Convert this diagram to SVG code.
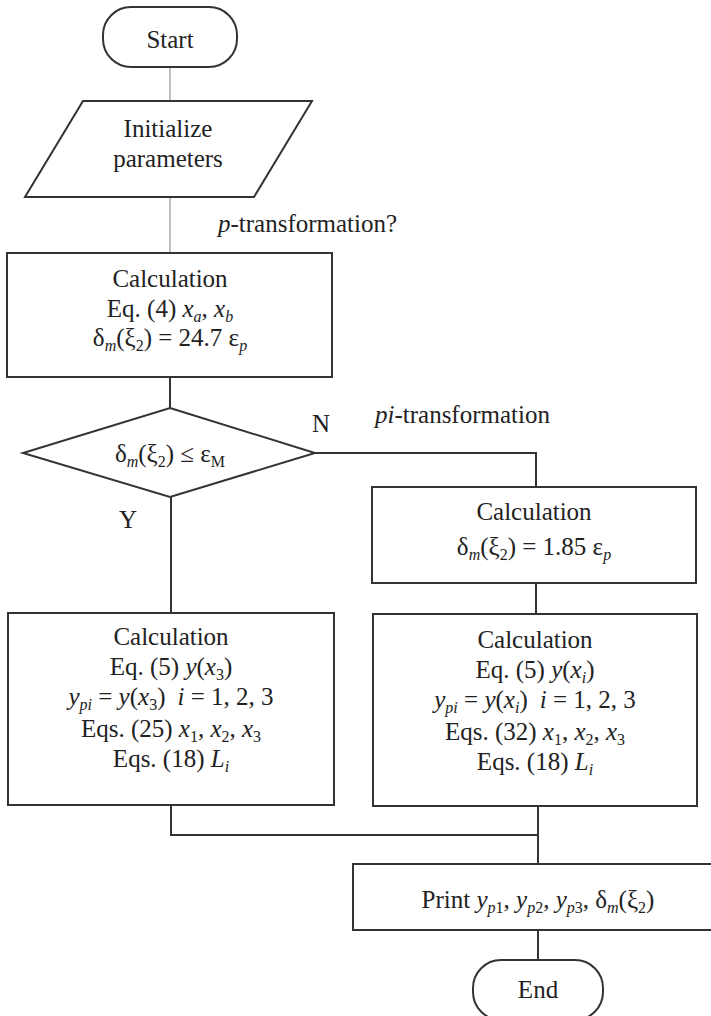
<svg xmlns="http://www.w3.org/2000/svg" width="711" height="1016" viewBox="0 0 711 1016" font-family="'Liberation Serif', 'Times New Roman', 'DejaVu Serif', serif">
<style>
text{font-family:'Liberation Serif','Times New Roman','DejaVu Serif',serif;font-size:25px;fill:#222;}
.c{text-anchor:middle;}
.i{font-style:italic;}
.s{font-size:16px;}
.shape{fill:#fff;stroke:#333;stroke-width:2;}
.ln{fill:none;stroke:#333;stroke-width:2;}
.lg{fill:none;stroke:#aaa;stroke-width:1.5;}
</style>
<rect width="711" height="1016" fill="#fff"/>
<g id="connectors">
<path class="lg" d="M170,67 V101"/>
<path class="lg" d="M170,197 V253"/>
<path class="ln" d="M170,377 V408"/>
<path class="ln" d="M315,453 H536 V487"/>
<path class="ln" d="M171,497 V613"/>
<path class="ln" d="M536,583 V614"/>
<path class="ln" d="M171,805 V835 H538"/>
<path class="ln" d="M538,806 V864"/>
<path class="ln" d="M538,930 V960"/>
</g>
<g id="start">
<rect class="shape" x="103" y="7" width="134" height="60" rx="28"/>
<text class="c" x="170" y="48">Start</text>
</g>
<g id="init">
<polygon class="shape" points="83,101 312,101 254,197 25,197"/>
<text class="c" x="168" y="137">Initialize</text>
<text class="c" x="168" y="167">parameters</text>
</g>
<g id="label-p">
<text x="218" y="232"><tspan class="i">p</tspan>-transformation?</text>
</g>
<g id="calc1">
<rect class="shape" x="7" y="253" width="325" height="124"/>
<text class="c" x="170" y="287">Calculation</text>
<text class="c" x="170" y="317">Eq. (4) <tspan class="i">x</tspan><tspan class="i s" dy="5">a</tspan><tspan dy="-5">, </tspan><tspan class="i">x</tspan><tspan class="i s" dy="5">b</tspan></text>
<text class="c" x="170" y="346">δ<tspan class="i s" dy="5">m</tspan><tspan dy="-5">(ξ</tspan><tspan class="s" dy="5">2</tspan><tspan dy="-5">) = 24.7 ε</tspan><tspan class="i s" dy="5">p</tspan></text>
</g>
<g id="decision">
<polygon class="shape" points="170,408 315,453 170,497 23,453"/>
<text class="c" x="170" y="462">δ<tspan class="i s" dy="5">m</tspan><tspan dy="-5">(ξ</tspan><tspan class="s" dy="5">2</tspan><tspan dy="-5">) ≤ ε</tspan><tspan class="s" dy="5">M</tspan></text>
</g>
<g id="labels">
<text class="c" x="321" y="432">N</text>
<text x="375" y="423"><tspan class="i">pi</tspan>-transformation</text>
<text class="c" x="128" y="528">Y</text>
</g>
<g id="calc2">
<rect class="shape" x="372" y="487" width="324" height="96"/>
<text class="c" x="534" y="520">Calculation</text>
<text class="c" x="534" y="555">δ<tspan class="i s" dy="5">m</tspan><tspan dy="-5">(ξ</tspan><tspan class="s" dy="5">2</tspan><tspan dy="-5">) = 1.85 ε</tspan><tspan class="i s" dy="5">p</tspan></text>
</g>
<g id="calc-y">
<rect class="shape" x="8" y="613" width="326" height="192"/>
<text class="c" x="171" y="645">Calculation</text>
<text class="c" x="171" y="675">Eq. (5) <tspan class="i">y</tspan>(<tspan class="i">x</tspan><tspan class="s" dy="5">3</tspan><tspan dy="-5">)</tspan></text>
<text class="c" x="171" y="705"><tspan class="i">y</tspan><tspan class="i s" dy="5">pi</tspan><tspan dy="-5"> = </tspan><tspan class="i">y</tspan>(<tspan class="i">x</tspan><tspan class="s" dy="5">3</tspan><tspan dy="-5">)</tspan><tspan class="i" dx="12">i</tspan> = 1, 2, 3</text>
<text class="c" x="171" y="737">Eqs. (25) <tspan class="i">x</tspan><tspan class="s" dy="5">1</tspan><tspan dy="-5">, </tspan><tspan class="i">x</tspan><tspan class="s" dy="5">2</tspan><tspan dy="-5">, </tspan><tspan class="i">x</tspan><tspan class="s" dy="5">3</tspan></text>
<text class="c" x="171" y="767">Eqs. (18) <tspan class="i">L</tspan><tspan class="i s" dy="5">i</tspan></text>
</g>
<g id="calc-n">
<rect class="shape" x="373" y="614" width="324" height="192"/>
<text class="c" x="535" y="648">Calculation</text>
<text class="c" x="535" y="678">Eq. (5) <tspan class="i">y</tspan>(<tspan class="i">x</tspan><tspan class="i s" dy="5">i</tspan><tspan dy="-5">)</tspan></text>
<text class="c" x="535" y="708"><tspan class="i">y</tspan><tspan class="i s" dy="5">pi</tspan><tspan dy="-5"> = </tspan><tspan class="i">y</tspan>(<tspan class="i">x</tspan><tspan class="i s" dy="5">i</tspan><tspan dy="-5">)</tspan><tspan class="i" dx="12">i</tspan> = 1, 2, 3</text>
<text class="c" x="535" y="740">Eqs. (32) <tspan class="i">x</tspan><tspan class="s" dy="5">1</tspan><tspan dy="-5">, </tspan><tspan class="i">x</tspan><tspan class="s" dy="5">2</tspan><tspan dy="-5">, </tspan><tspan class="i">x</tspan><tspan class="s" dy="5">3</tspan></text>
<text class="c" x="535" y="770">Eqs. (18) <tspan class="i">L</tspan><tspan class="i s" dy="5">i</tspan></text>
</g>
<g id="print">
<rect class="shape" x="353" y="864" width="372" height="66"/>
<text class="c" x="538" y="908">Print <tspan class="i">y</tspan><tspan class="i s" dy="5">p</tspan><tspan class="s">1</tspan><tspan dy="-5">, </tspan><tspan class="i">y</tspan><tspan class="i s" dy="5">p</tspan><tspan class="s">2</tspan><tspan dy="-5">, </tspan><tspan class="i">y</tspan><tspan class="i s" dy="5">p</tspan><tspan class="s">3</tspan><tspan dy="-5">, δ</tspan><tspan class="i s" dy="5">m</tspan><tspan dy="-5">(ξ</tspan><tspan class="s" dy="5">2</tspan><tspan dy="-5">)</tspan></text>
</g>
<g id="end">
<rect class="shape" x="473" y="960" width="130" height="60" rx="28"/>
<text class="c" x="538" y="998">End</text>
</g>
</svg>
